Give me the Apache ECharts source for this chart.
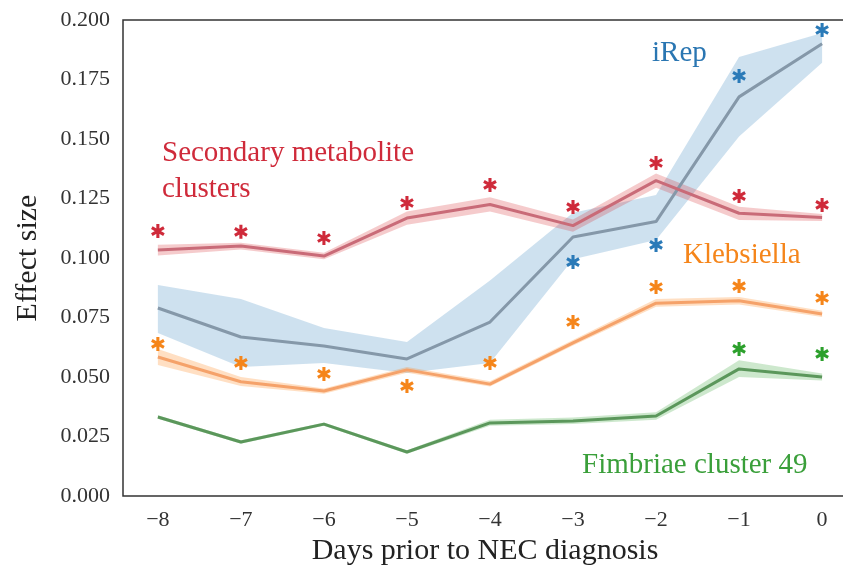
<!DOCTYPE html>
<html>
<head>
<meta charset="utf-8">
<script src="https://cdn.jsdelivr.net/npm/echarts@6/dist/echarts.min.js"></script>
<style>
html,body{margin:0;padding:0;background:#fff;}
#chart{width:843px;height:567px;}
</style>
</head>
<body>
<div id="chart"></div>
<script>
// ---- data ----
var days = [-8, -7, -6, -5, -4, -3, -2, -1, 0];
var xTicks = [-8, -7, -6, -5, -4, -3, -2, -1, 0];

var secMean = [0.1034, 0.1050, 0.1008, 0.1168, 0.1225, 0.1136, 0.1325, 0.1188, 0.1170];
var secLow  = [0.1010, 0.1036, 0.0995, 0.1140, 0.1195, 0.1110, 0.1295, 0.1160, 0.1155];
var secHigh = [0.1056, 0.1064, 0.1022, 0.1195, 0.1255, 0.1162, 0.1355, 0.1215, 0.1185];

var irepMean = [0.0790, 0.0668, 0.0630, 0.0576, 0.0731, 0.1088, 0.1153, 0.1677, 0.1900];
var irepLow  = [0.0685, 0.0542, 0.0559, 0.0517, 0.0559, 0.0995, 0.1076, 0.1510, 0.1820];
var irepHigh = [0.0887, 0.0828, 0.0706, 0.0647, 0.0905, 0.1190, 0.1265, 0.1845, 0.1945];

var klebMean = [0.0584, 0.0480, 0.0441, 0.0530, 0.0470, 0.0643, 0.0810, 0.0820, 0.0765];
var klebLow  = [0.0550, 0.0462, 0.0430, 0.0518, 0.0460, 0.0632, 0.0795, 0.0805, 0.0752];
var klebHigh = [0.0618, 0.0500, 0.0452, 0.0542, 0.0482, 0.0655, 0.0828, 0.0836, 0.0778];

var fimbMean = [0.0332, 0.0227, 0.0302, 0.0185, 0.0307, 0.0315, 0.0336, 0.0534, 0.0500];
var fimbLow  = [0.0325, 0.0220, 0.0295, 0.0178, 0.0295, 0.0302, 0.0320, 0.0500, 0.0485];
var fimbHigh = [0.0339, 0.0234, 0.0309, 0.0192, 0.0320, 0.0330, 0.0352, 0.0570, 0.0515];

// significance asterisks
var secStarDays = [-8, -7, -6, -5, -4, -3, -2, -1, 0];
var secStar     = [0.1113, 0.1110, 0.1084, 0.1231, 0.1307, 0.1214, 0.1399, 0.1260, 0.1223];
var irepStarDays = [-3, -2, -1, 0];
var irepStar     = [0.0983, 0.1055, 0.1765, 0.1958];
var klebStarDays = [-8, -7, -6, -5, -4, -3, -2, -1, 0];
var klebStar     = [0.0639, 0.0559, 0.0513, 0.0462, 0.0559, 0.0731, 0.0878, 0.0882, 0.0832];
var fimbStarDays = [-1, 0];
var fimbStar     = [0.0618, 0.0597];

// ---- helpers ----
function pairs(xs, ys) { return xs.map(function (x, i) { return [x, ys[i]]; }); }

var ASTERISK = 'path://' +
  'M-2.2,10 L2.2,10 L2.2,-10 L-2.2,-10 Z ' +
  'M7.56,6.905 L9.76,3.095 L-7.56,-6.905 L-9.76,-3.095 Z ' +
  'M-9.76,3.095 L-7.56,6.905 L9.76,-3.095 L7.56,-6.905 Z';

function band(name, low, high, color) {
  return {
    type: 'custom', name: name, silent: true, z: 1,
    data: [[days[0], low[0]]],
    renderItem: function (params, api) {
      var pts = [];
      for (var i = 0; i < days.length; i++) pts.push(api.coord([days[i], high[i]]));
      for (var j = days.length - 1; j >= 0; j--) pts.push(api.coord([days[j], low[j]]));
      return { type: 'polygon', shape: { points: pts }, style: { fill: color, stroke: null } };
    }
  };
}
function meanLine(name, ys, color) {
  return {
    type: 'line', name: name, data: pairs(days, ys), z: 3,
    symbol: 'none', lineStyle: { color: color, width: 3 }, silent: true
  };
}
function stars(name, xs, ys, color) {
  return {
    type: 'scatter', name: name, data: pairs(xs, ys), z: 4,
    symbol: ASTERISK, symbolSize: 14, symbolKeepAspect: true,
    itemStyle: { color: color, opacity: 1 }, silent: true
  };
}

var serif = '"Liberation Serif", "Times New Roman", serif';
var chart = echarts.init(document.getElementById('chart'), null, { renderer: 'canvas' });
chart.setOption({
  animation: false,
  backgroundColor: '#fff',
  grid: { left: 123, top: 20, bottom: 71, right: -4, outerBoundsMode: 'none', containLabel: false,
          show: true, borderColor: '#333', borderWidth: 1.5, backgroundColor: 'transparent' },
  xAxis: {
    type: 'value', min: -8.42, max: 0.3,
    axisLine: { show: false }, axisTick: { show: false }, splitLine: { show: false },
    axisLabel: {
      customValues: xTicks, margin: 13, fontFamily: serif, fontSize: 22, color: '#333',
      formatter: function (v) { return v < 0 ? '\u2212' + Math.abs(v) : String(v); }
    },
    name: 'Days prior to NEC diagnosis', nameLocation: 'middle', nameGap: 30,
    nameTextStyle: { fontFamily: serif, fontSize: 30, color: '#222' }
  },
  yAxis: {
    type: 'value', min: 0, max: 0.2, interval: 0.025,
    axisLine: { show: false }, axisTick: { show: false }, splitLine: { show: false },
    axisLabel: {
      margin: 13, fontFamily: serif, fontSize: 22, color: '#333',
      formatter: function (v) { return v.toFixed(3); }
    },
    name: 'Effect size', nameLocation: 'middle', nameGap: 80,
    nameTextStyle: { fontFamily: serif, fontSize: 30, color: '#222' }
  },
  series: [
    band('iRep band', irepLow, irepHigh, 'rgba(31,119,180,0.22)'),
    band('Secondary band', secLow, secHigh, 'rgba(214,39,40,0.24)'),
    band('Klebsiella band', klebLow, klebHigh, 'rgba(255,127,14,0.25)'),
    band('Fimbriae band', fimbLow, fimbHigh, 'rgba(44,160,44,0.24)'),
    meanLine('iRep', irepMean, '#8598a9'),
    meanLine('Secondary metabolite clusters', secMean, '#c96b78'),
    meanLine('Klebsiella', klebMean, '#f5a26a'),
    meanLine('Fimbriae cluster 49', fimbMean, '#5b975b'),
    stars('Secondary *', secStarDays, secStar, '#cf2a3a'),
    stars('iRep *', irepStarDays, irepStar, '#2a7ab8'),
    stars('Klebsiella *', klebStarDays, klebStar, '#f5851a'),
    stars('Fimbriae *', fimbStarDays, fimbStar, '#2ca02c')
  ],
  graphic: [
    { type: 'text', left: 162, top: 139, z: 10, style: { text: 'Secondary metabolite', font: '29px ' + serif, fill: '#cf2a3a' } },
    { type: 'text', left: 162, top: 175, z: 10, style: { text: 'clusters', font: '29px ' + serif, fill: '#cf2a3a' } },
    { type: 'text', left: 652, top: 39, z: 10, style: { text: 'iRep', font: '29px ' + serif, fill: '#2a76b2' } },
    { type: 'text', left: 683, top: 241, z: 10, style: { text: 'Klebsiella', font: '29px ' + serif, fill: '#f5851a' } },
    { type: 'text', left: 582, top: 451, z: 10, style: { text: 'Fimbriae cluster 49', font: '29px ' + serif, fill: '#3a9f3a' } }
  ]
});
</script>
</body>
</html>
